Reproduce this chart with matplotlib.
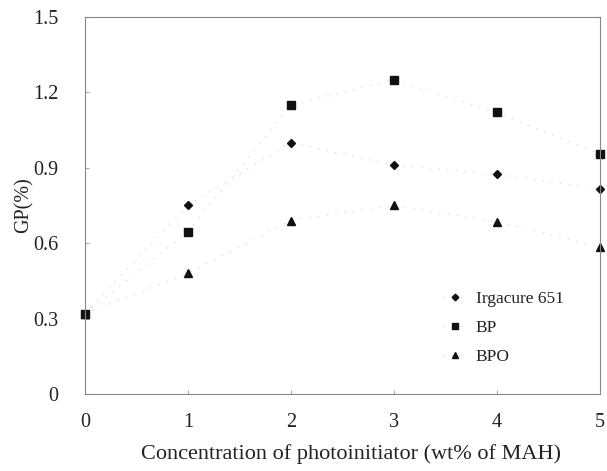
import matplotlib
matplotlib.use('Agg')
from matplotlib import pyplot as plt

conc = [0, 1, 2, 3, 4, 5]
irgacure = [0.32, 0.75, 1.00, 0.91, 0.875, 0.815]
bp = [0.32, 0.645, 1.15, 1.25, 1.12, 0.955]
bpo = [0.32, 0.48, 0.69, 0.75, 0.685, 0.585]

plt.rcParams['font.family'] = ['Liberation Serif', 'DejaVu Serif']

fig = plt.figure(figsize=(6.07, 4.71), dpi=100)
ax = fig.add_axes([0.140, 0.1635, 0.848, 0.8005])

line_kw = dict(color='#d8d8d8', linestyle=(0, (1, 6)), linewidth=0.9,
               markeredgecolor='#111111', markerfacecolor='#111111', clip_on=False)
ax.plot(conc, irgacure, marker='D', markersize=4.5, label='Irgacure 651', **line_kw)
ax.plot(conc, bp, marker='s', markersize=6, label='BP', **line_kw)
ax.plot(conc, bpo, marker='^', markersize=6, label='BPO', **line_kw)

ax.set_xlim(0, 5)
ax.set_ylim(0, 1.5)
ax.set_xticks(conc)
ax.set_yticks([0, 0.3, 0.6, 0.9, 1.2, 1.5])
ax.set_yticklabels(['0', '0.3', '0.6', '0.9', '1.2', '1.5'])
ax.tick_params(direction='in', length=3, labelsize=14.5, color='#aaaaaa', labelcolor='#222222')
ax.tick_params(axis='x', pad=14)
ax.tick_params(axis='y', pad=19)
for s in ax.spines.values():
    s.set_color('#888888')
    s.set_linewidth(0.8)

# axis titles placed directly in figure coordinates
fig.text(0.578, 0.036, 'Concentration of photoinitiator (wt% of MAH)', fontsize=16,
         ha='center', va='center', color='#222222')
fig.text(0.040, 0.565, 'GP(%)', fontsize=14.5, rotation=90,
         ha='center', va='center', color='#222222')

leg = ax.legend(loc='lower right', bbox_to_anchor=(0.96, 0.035), frameon=False,
                fontsize=12.5, handlelength=1.4, markerscale=0.75, labelspacing=0.75,
                handletextpad=0.5)
for t in leg.get_texts():
    t.set_color('#222222')

fig.savefig('out.png', dpi=100)
